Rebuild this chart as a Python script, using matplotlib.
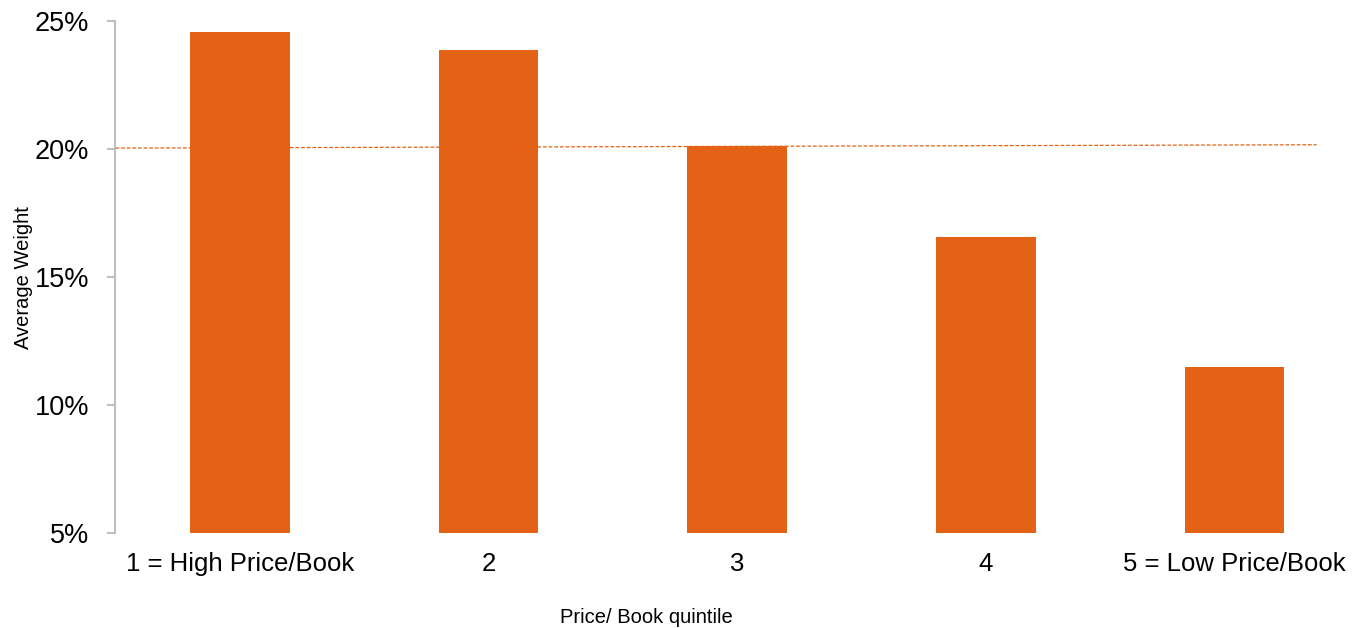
import matplotlib
matplotlib.use("Agg")
import matplotlib.pyplot as plt
import matplotlib.ticker as mticker

plt.rcParams["font.family"] = ["Liberation Sans", "DejaVu Sans"]

# Average weight by price/book quintile
quintiles = ["1 = High Price/Book", "2", "3", "4", "5 = Low Price/Book"]
avg_weight = [24.59, 23.87, 20.12, 16.56, 11.48]

# Equal-weight reference line (endpoints)
ref_x = [-0.5, 4.33]
ref_y = [20.05, 20.18]

BAR_COLOR = "#E46215"
SPINE_COLOR = "#BFBFBF"

fig = plt.figure(figsize=(13.54, 6.28), dpi=100)
ax = fig.add_axes([0.0853, 0.1513, 0.9147, 0.8145])

x = list(range(len(quintiles)))
ax.bar(x, avg_weight, width=0.4, color=BAR_COLOR, bottom=0, zorder=2)
ax.plot(ref_x, ref_y, color=BAR_COLOR, linestyle=(0, (3, 1.5)), linewidth=0.9, zorder=3)

ax.set_xlim(-0.5, 4.48)
ax.set_ylim(5, 25)
ax.yaxis.set_major_locator(mticker.MultipleLocator(5))
ax.yaxis.set_major_formatter(mticker.FuncFormatter(lambda v, _: f"{v:.0f}%"))
ax.set_xticks(x)
ax.set_xticklabels(quintiles)

for side in ("top", "right", "bottom"):
    ax.spines[side].set_visible(False)
ax.spines["left"].set_color(SPINE_COLOR)
ax.spines["left"].set_linewidth(1.5)

ax.tick_params(axis="y", length=6, width=1.5, color=SPINE_COLOR, labelsize=19.5, pad=13)
ax.tick_params(axis="x", length=0, labelsize=18.5, pad=14)

ax.set_xlabel("Price/ Book quintile", fontsize=14.5, labelpad=23, x=0.429)
ax.set_ylabel("Average Weight", fontsize=14.5, labelpad=1)

fig.savefig("out.png", dpi=100)
